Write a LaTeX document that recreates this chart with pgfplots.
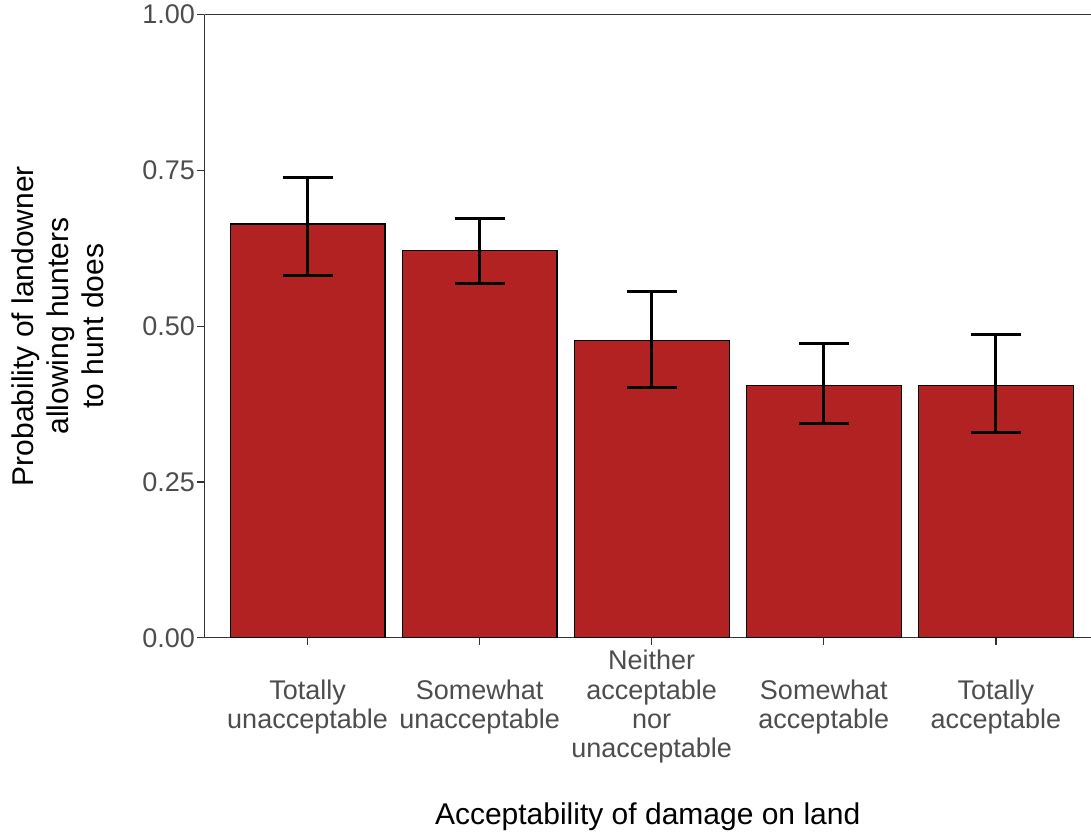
\documentclass[border=0pt]{standalone}
\usepackage{pgfplots}
\pgfplotsset{compat=1.18}
\usepackage{fontspec}
\setmainfont{Liberation Sans}
\definecolor{barred}{HTML}{B22222}
\definecolor{ticktext}{HTML}{4D4D4D}
\definecolor{axisgrey}{HTML}{333333}

\pgfplotstableread{
x y ep em
1 0.664 0.074 0.082
2 0.621 0.052 0.053
3 0.477 0.079 0.076
4 0.4045 0.0675 0.060
5 0.4045 0.0815 0.0755
}\probtable

\begin{document}
\begin{tikzpicture}
\useasboundingbox (-102.15pt,-96.65pt) rectangle (443.35pt,318.85pt);
\begin{axis}[
  at={(0,0)}, anchor=south west,
  scale only axis,
  width=443.35pt, height=311.5pt,
  xmin=0.4, xmax=5.553,
  ymin=0, ymax=1,
  enlargelimits=false,
  axis lines=left,
  axis line style={-, axisgrey, line width=0.7pt},
  tick align=outside,
  major tick length=3.5pt,
  tick style={axisgrey, line width=0.7pt},
  xtick={1,2,3,4,5},
  xticklabels={{Totally\\unacceptable},{Somewhat\\unacceptable},{Neither\\acceptable\\nor\\unacceptable},{Somewhat\\acceptable},{Totally\\acceptable}},
  xticklabel style={align=center, anchor=center, yshift=-31pt,
    font=\fontsize{13.5pt}{14.6pt}\selectfont, text=ticktext},
  ytick={0,0.25,0.5,0.75,1},
  yticklabel style={font=\fontsize{13.5pt}{14.6pt}\selectfont, text=ticktext, inner xsep=1pt,
    /pgf/number format/.cd, fixed, fixed zerofill, precision=2, assume math mode=true},
  xlabel={Acceptability of damage on land},
  xlabel style={at={(rel axis cs:0.5,0)}, anchor=base, yshift=-93.6pt,
    font=\fontsize{15pt}{17.5pt}\selectfont},
  ylabel={Probability of landowner\\allowing hunters\\to hunt does},
  ylabel style={at={(rel axis cs:0,0.5)}, anchor=center, yshift=73.5pt, align=center,
    font=\fontsize{15pt}{17.5pt}\selectfont},
]
\addplot[ybar, bar width=0.9, fill=barred, draw=black, line width=0.6pt,
  error bars/.cd, y dir=both, y explicit,
  error bar style={black, line width=1.5pt},
  error mark options={rotate=90, mark size=12.5pt, line width=1.5pt, black}]
  table[x=x, y=y, y error plus=ep, y error minus=em]{\probtable};
\draw[axisgrey, line width=0.7pt] (rel axis cs:0,1) -- (rel axis cs:1,1);
\end{axis}
\end{tikzpicture}
\end{document}
